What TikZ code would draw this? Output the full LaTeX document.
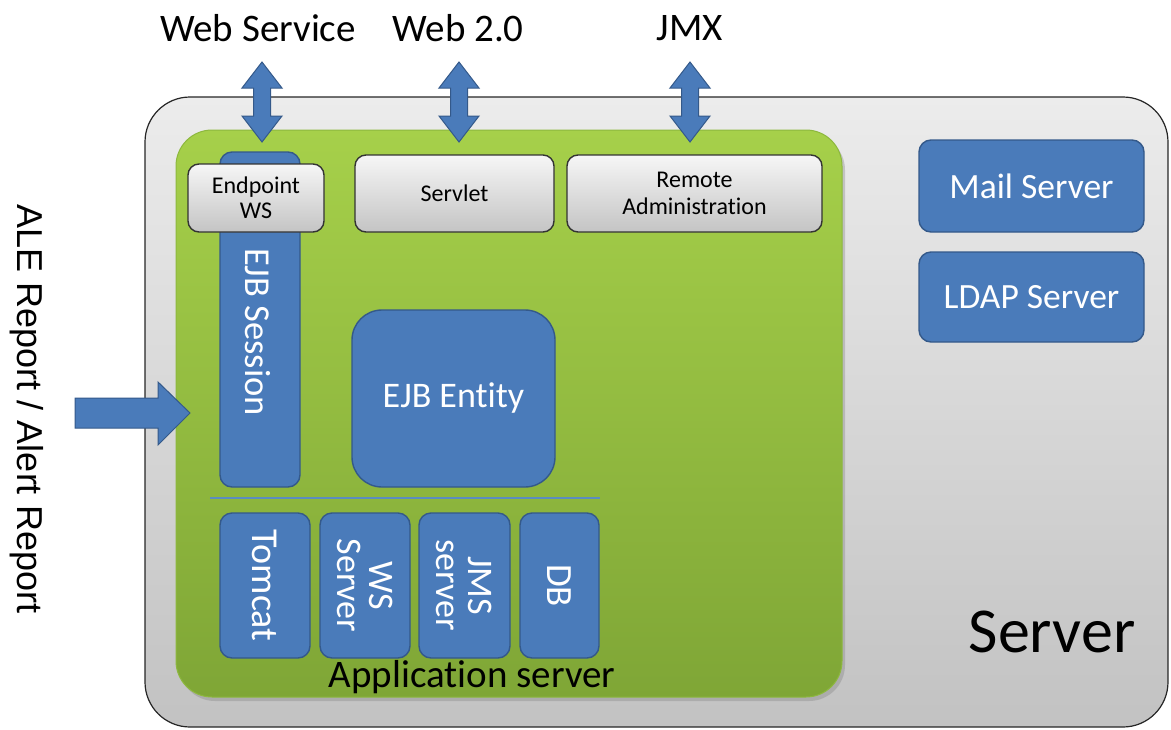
\documentclass[tikz,border=0pt]{standalone}
\usepackage{fontspec}
\setmainfont{Carlito}[Ligatures=NoCommon]
\newfontfamily\arialfont{Liberation Sans}
\usetikzlibrary{shadows}
\definecolor{boxblue}{HTML}{4A7BBA}
\definecolor{boxblueline}{HTML}{34598A}
\definecolor{greentop}{HTML}{A6D04A}
\definecolor{greenbot}{HTML}{7FA636}
\definecolor{greenline}{HTML}{8DB83E}
\definecolor{graytop}{HTML}{ECECEC}
\definecolor{graybot}{HTML}{C2C2C2}
\definecolor{keytop}{HTML}{F6F6F6}
\definecolor{keybot}{HTML}{C4C4C4}
\definecolor{sepline}{HTML}{5B8CC0}
\newcommand{\fs}[1]{\fontsize{#1}{#1}\selectfont}
\begin{document}
\begin{tikzpicture}[x=1pt,y=-1pt,
  every node/.style={inner sep=0pt, outer sep=0pt},
  serverbox/.style={draw=black!85, line width=1.2pt, rounded corners=45pt,
    top color=graytop, bottom color=graybot},
  appbox/.style={draw=greenline, line width=1pt, rounded corners=36pt,
    top color=greentop, bottom color=greenbot,
    drop shadow={opacity=0.35, shadow xshift=3pt, shadow yshift=-4pt}},
  bluebox/.style={draw=boxblueline, line width=1.4pt, rounded corners=12pt,
    fill=boxblue, text=white, align=center},
  keybox/.style={draw=black!80, line width=1.4pt, rounded corners=11pt,
    top color=keytop, bottom color=keybot, align=center, font=\fs{24}},
  blockarrow/.style={fill=boxblue, draw=boxblueline, line width=1pt},
  title/.style={font=\fs{39}}
]
\useasboundingbox (0,0) rectangle (1171,729);

% server enclosure
\node[serverbox, minimum width=1023pt, minimum height=630pt] (server) at (656.5,412) {};
\node[font=\fs{64}] (serverlabel) at (1052,632) {Server};

% application server
\node[appbox, minimum width=666pt, minimum height=567pt] (app) at (509,413.5) {};
\node[font=\fs{39}] (applabel) at (472,677) {Application server};

% EJB session column (behind the endpoint); its label sits below the endpoint
\node[bluebox, minimum width=80pt, minimum height=335pt] (session) at (260,319.5) {};
\node[rotate=-90, text=white, font=\fs{36.5}] (sessionlabel) at (258,332) {EJB Session};

% front-end components
\node[keybox, minimum width=136pt, minimum height=68pt] (endpoint) at (256,198) {Endpoint\\[1pt]WS};
\node[keybox, minimum width=199pt, minimum height=77pt] (servlet) at (454.5,193.5) {Servlet};
\node[keybox, minimum width=255pt, minimum height=77pt] (remote) at (694.5,193.5) {Remote\\[3pt]Administration};

% entity
\node[bluebox, rounded corners=30pt, minimum width=203pt, minimum height=177pt, font=\fs{36}]
  (entity) at (453.5,398.5) {EJB Entity};

% separator
\coordinate (sepL) at (210,498);
\coordinate (sepR) at (600,498);
\draw[sepline, line width=1.5pt] (sepL) -- (sepR);

% container services
\node[bluebox, rotate=-90, minimum width=145pt, minimum height=90pt, font=\fs{38}]
  (tomcat) at (265,585.5) {Tomcat};
\node[bluebox, rotate=-90, minimum width=145pt, minimum height=90pt, font=\fs{36}]
  (wsserver) at (365,585.5) {WS\\[-4pt]Server};
\node[bluebox, rotate=-90, minimum width=145pt, minimum height=91pt, font=\fs{36}]
  (jms) at (464.5,585.5) {JMS\\[-4pt]server};
\node[bluebox, rotate=-90, minimum width=145pt, minimum height=79pt, font=\fs{37}]
  (db) at (559.5,585.5) {DB};

% external servers
\node[bluebox, minimum width=225pt, minimum height=92pt, font=\fs{35.5}] (mail) at (1031.5,186) {Mail Server};
\node[bluebox, minimum width=225pt, minimum height=90pt, font=\fs{35.5}] (ldap) at (1031.5,297) {LDAP Server};

% external interfaces
\node[title] (ws) at (258,28) {Web Service};
\node[title] (web) at (458,28) {Web 2.0};
\node[title] (jmx) at (690,28) {JMX};

\path[blockarrow, shift={(262,62)}] (0,0) -- (20,26) -- (8.5,26) -- (8.5,54) -- (20,54) -- (0,80)
  -- (-20,54) -- (-8.5,54) -- (-8.5,26) -- (-20,26) -- cycle;
\path[blockarrow, shift={(459,62)}] (0,0) -- (20,26) -- (8.5,26) -- (8.5,54) -- (20,54) -- (0,80)
  -- (-20,54) -- (-8.5,54) -- (-8.5,26) -- (-20,26) -- cycle;
\path[blockarrow, shift={(690,62)}] (0,0) -- (20,26) -- (8.5,26) -- (8.5,54) -- (20,54) -- (0,80)
  -- (-20,54) -- (-8.5,54) -- (-8.5,26) -- (-20,26) -- cycle;

% report input
\node[rotate=-90, font=\arialfont\fs{36}] (ale) at (27,409) {ALE Report / Alert Report};
\path[blockarrow] (75,398) -- (158,398) -- (158,382) -- (190,413) -- (158,445) -- (158,428)
  -- (75,428) -- cycle;
\end{tikzpicture}
\end{document}
